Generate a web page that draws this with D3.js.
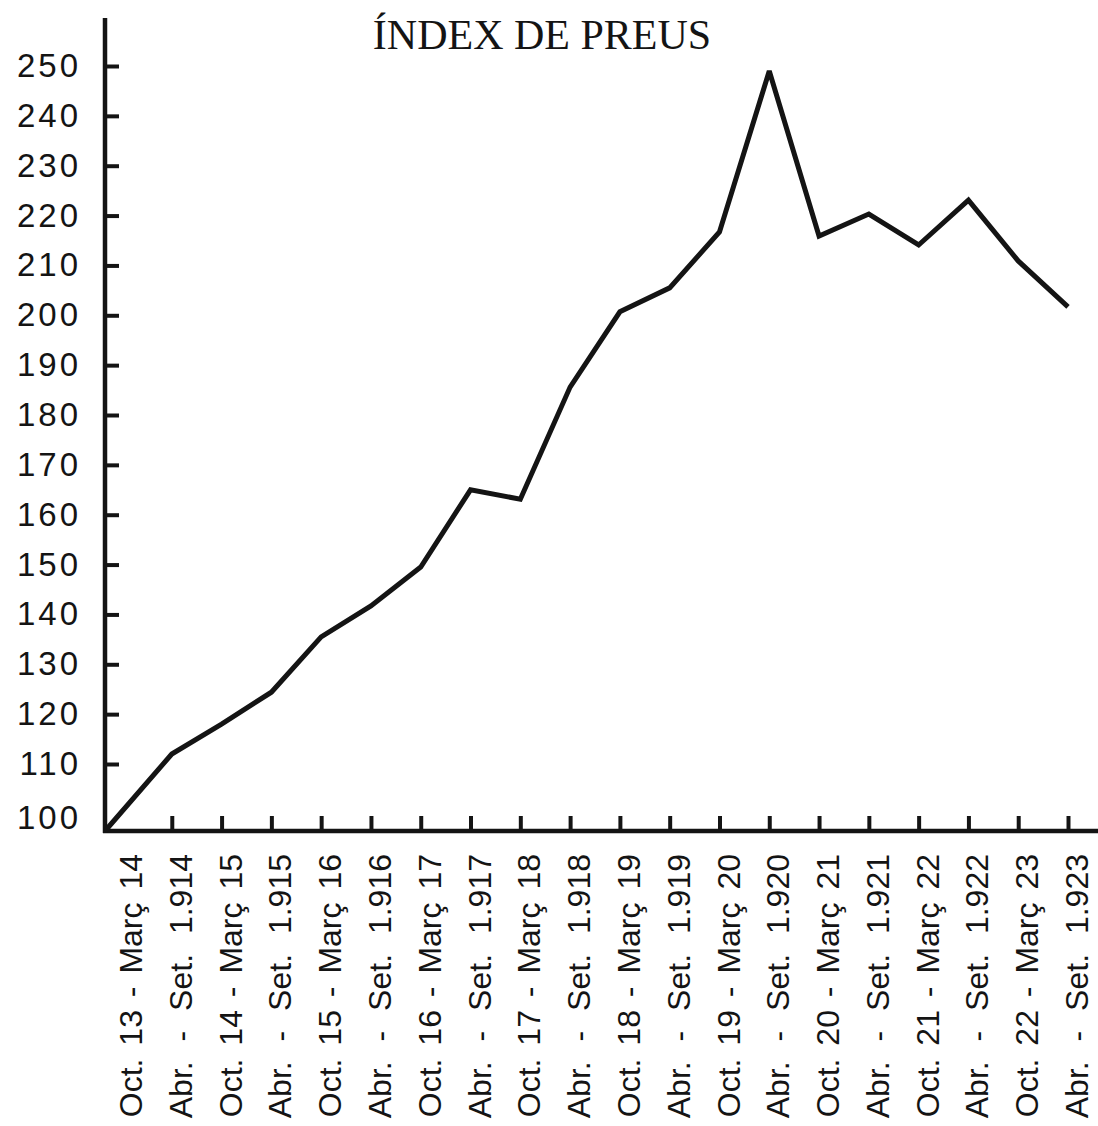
<!DOCTYPE html>
<html>
<head>
<meta charset="utf-8">
<title>Índex de preus</title>
<script src="https://cdn.jsdelivr.net/npm/d3@7"></script>
<style>
	html, body { margin: 0; padding: 0; background: #fff; }
	svg { display: block; }
	.tick text { fill: #141414; }
</style>
</head>
<body>
<div id="chart"></div>
<script>
var periods = [
	"Oct. 13 - Març 14", "Abr. - Set. 1.914",
	"Oct. 14 - Març 15", "Abr. - Set. 1.915",
	"Oct. 15 - Març 16", "Abr. - Set. 1.916",
	"Oct. 16 - Març 17", "Abr. - Set. 1.917",
	"Oct. 17 - Març 18", "Abr. - Set. 1.918",
	"Oct. 18 - Març 19", "Abr. - Set. 1.919",
	"Oct. 19 - Març 20", "Abr. - Set. 1.920",
	"Oct. 20 - Març 21", "Abr. - Set. 1.921",
	"Oct. 21 - Març 22", "Abr. - Set. 1.922",
	"Oct. 22 - Març 23", "Abr. - Set. 1.923"
];
var priceIndex = [100, 112, 118, 124.4, 135.5, 141.7, 149.5, 165, 163.1, 185.6,
	200.7, 205.5, 216.7, 249, 215.9, 220.3, 214.1, 223.1, 210.9, 201.7];
var yTicks = [100, 110, 120, 130, 140, 150, 160, 170, 180, 190, 200, 210, 220, 230, 240, 250];
var title = "ÍNDEX DE PREUS";

var width = 1098, height = 1126;
var ink = "#141414";

var svg = d3.select("#chart").append("svg")
	.attr("width", width)
	.attr("height", height);

// the hand drawn axes: origin sits a little left of the first period
var originX = 105;
var x = d3.scalePoint().domain(periods).range([122, 1068]);
// line goes from the origin corner, then follows the period ticks
var lineX = d3.scaleLinear()
	.domain([0, 1, periods.length - 1])
	.range([originX, x(periods[1]), x(periods[periods.length - 1])]);
// bottom step of the scale is stretched in the original drawing
var y = d3.scaleLinear()
	.domain([100, 110, 250])
	.range([831, 764, 66]);

// y axis
var yAxis = svg.append("g")
	.attr("transform", "translate(" + originX + ",0)")
	.call(d3.axisLeft(y)
		.tickValues(yTicks)
		.tickSizeInner(-14)
		.tickSizeOuter(0)
		.tickPadding(24));
yAxis.select(".domain").remove();
yAxis.selectAll(".tick line")
	.attr("stroke", ink)
	.attr("stroke-width", 4);
yAxis.selectAll(".tick text")
	.style("font-family", "'Liberation Sans', Arial, sans-serif")
	.style("font-size", "33px")
	.style("letter-spacing", "3px");
yAxis.selectAll(".tick")
	.filter(function(d) { return d == 100; })
	.select("line").remove();
yAxis.selectAll(".tick")
	.filter(function(d) { return d == 100; })
	.select("text").attr("dy", "-0.08em");

// x axis
var xAxis = svg.append("g")
	.attr("transform", "translate(0," + y(100) + ")")
	.call(d3.axisBottom(x)
		.tickSizeInner(-15)
		.tickSizeOuter(0));
xAxis.select(".domain").remove();
xAxis.selectAll(".tick line")
	.attr("stroke", ink)
	.attr("stroke-width", 4);
xAxis.selectAll(".tick")
	.filter(function(d, i) { return i == 0; })
	.select("line").remove();
xAxis.selectAll(".tick text")
	.attr("transform", "rotate(-90)")
	.attr("text-anchor", "end")
	.attr("x", -23)
	.attr("y", 8)
	.attr("dy", "0.36em")
	.style("font-family", "'Liberation Sans', Arial, sans-serif")
	.style("font-size", "32px")
	// the Abr. labels are set wider apart than the Oct. ones
	.style("word-spacing", function(d) { return d.indexOf("Abr.") == 0 ? "11px" : "4px"; });

// axis lines
svg.append("line")
	.attr("x1", originX).attr("x2", originX)
	.attr("y1", 18).attr("y2", y(100) + 2)
	.attr("stroke", ink)
	.attr("stroke-width", 4.5);
svg.append("line")
	.attr("x1", originX - 2).attr("x2", width)
	.attr("y1", y(100)).attr("y2", y(100))
	.attr("stroke", ink)
	.attr("stroke-width", 4.5);

// the price line
var line = d3.line()
	.x(function(d, i) { return lineX(i); })
	.y(function(d) { return y(d); });

svg.append("path")
	.datum(priceIndex)
	.attr("d", line)
	.attr("fill", "none")
	.attr("stroke", ink)
	.attr("stroke-width", 5)
	.attr("stroke-linejoin", "miter")
	.attr("stroke-miterlimit", 3);

svg.append("text")
	.attr("x", 542)
	.attr("y", 49)
	.attr("text-anchor", "middle")
	.style("font-family", "'Liberation Serif', 'Times New Roman', serif")
	.style("font-size", "42px")
	.attr("fill", ink)
	.text(title);
</script>
</body>
</html>
